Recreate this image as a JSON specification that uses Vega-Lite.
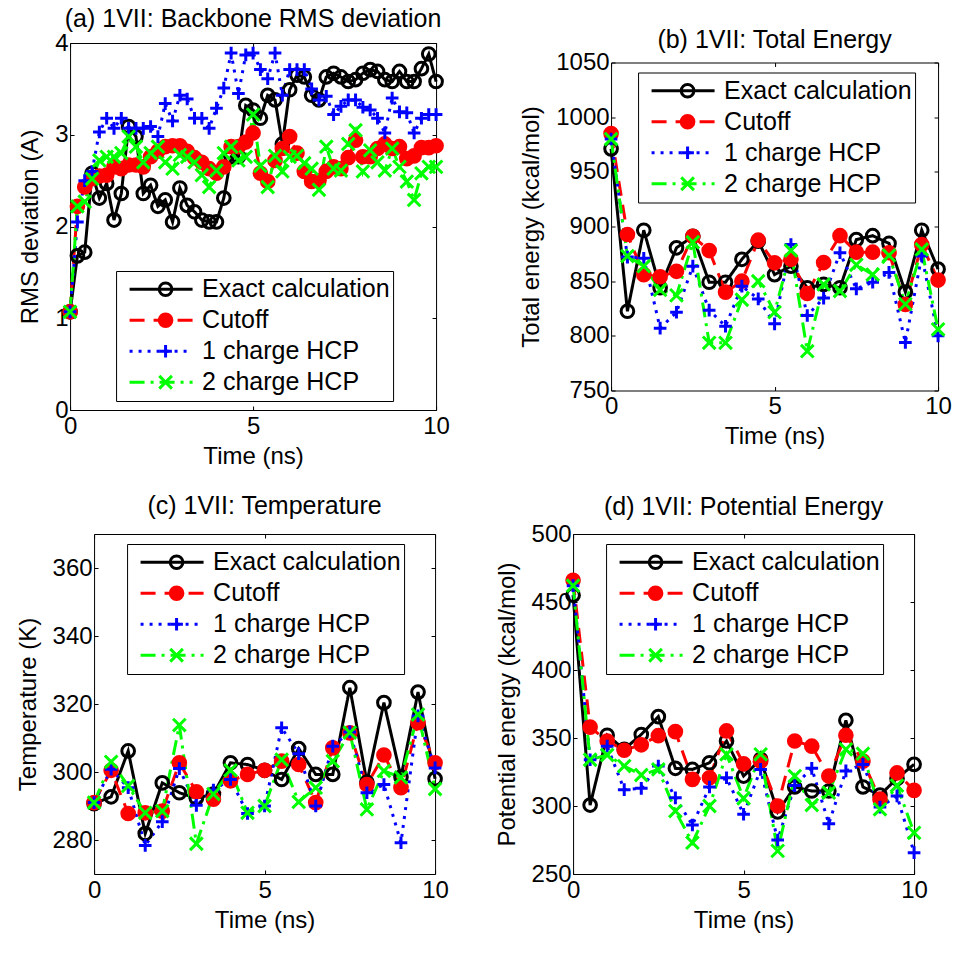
{
  "$schema": "https://vega.github.io/schema/vega-lite/v6.json",
  "background": "white",
  "padding": {"left": 15, "top": 6, "right": 5, "bottom": 5},
  "datasets": {
    "a": [
      {"t":0,"s":"Exact calculation","v":1.07},{"t":0.2,"s":"Exact calculation","v":1.68},{"t":0.4,"s":"Exact calculation","v":1.72},{"t":0.6,"s":"Exact calculation","v":2.58},{"t":0.8,"s":"Exact calculation","v":2.31},{"t":1,"s":"Exact calculation","v":2.47},{"t":1.2,"s":"Exact calculation","v":2.07},{"t":1.4,"s":"Exact calculation","v":2.36},{"t":1.6,"s":"Exact calculation","v":3.09},{"t":1.8,"s":"Exact calculation","v":2.98},{"t":2,"s":"Exact calculation","v":2.36},{"t":2.2,"s":"Exact calculation","v":2.45},{"t":2.4,"s":"Exact calculation","v":2.22},{"t":2.6,"s":"Exact calculation","v":2.29},{"t":2.8,"s":"Exact calculation","v":2.05},{"t":3,"s":"Exact calculation","v":2.42},{"t":3.2,"s":"Exact calculation","v":2.23},{"t":3.4,"s":"Exact calculation","v":2.16},{"t":3.6,"s":"Exact calculation","v":2.07},{"t":3.8,"s":"Exact calculation","v":2.05},{"t":4,"s":"Exact calculation","v":2.05},{"t":4.2,"s":"Exact calculation","v":2.31},{"t":4.4,"s":"Exact calculation","v":2.76},{"t":4.6,"s":"Exact calculation","v":2.76},{"t":4.8,"s":"Exact calculation","v":3.32},{"t":5,"s":"Exact calculation","v":3.27},{"t":5.2,"s":"Exact calculation","v":3.18},{"t":5.4,"s":"Exact calculation","v":3.43},{"t":5.6,"s":"Exact calculation","v":3.38},{"t":5.8,"s":"Exact calculation","v":2.9},{"t":6,"s":"Exact calculation","v":3.49},{"t":6.2,"s":"Exact calculation","v":3.65},{"t":6.4,"s":"Exact calculation","v":3.63},{"t":6.6,"s":"Exact calculation","v":3.43},{"t":6.8,"s":"Exact calculation","v":3.38},{"t":7,"s":"Exact calculation","v":3.63},{"t":7.2,"s":"Exact calculation","v":3.67},{"t":7.4,"s":"Exact calculation","v":3.63},{"t":7.6,"s":"Exact calculation","v":3.58},{"t":7.8,"s":"Exact calculation","v":3.6},{"t":8,"s":"Exact calculation","v":3.67},{"t":8.2,"s":"Exact calculation","v":3.71},{"t":8.4,"s":"Exact calculation","v":3.69},{"t":8.6,"s":"Exact calculation","v":3.6},{"t":8.8,"s":"Exact calculation","v":3.58},{"t":9,"s":"Exact calculation","v":3.69},{"t":9.2,"s":"Exact calculation","v":3.58},{"t":9.4,"s":"Exact calculation","v":3.58},{"t":9.6,"s":"Exact calculation","v":3.72},{"t":9.8,"s":"Exact calculation","v":3.88},{"t":10,"s":"Exact calculation","v":3.58},
      {"t":0,"s":"Cutoff","v":1.07},{"t":0.2,"s":"Cutoff","v":2.22},{"t":0.4,"s":"Cutoff","v":2.43},{"t":0.6,"s":"Cutoff","v":2.52},{"t":0.8,"s":"Cutoff","v":2.55},{"t":1,"s":"Cutoff","v":2.56},{"t":1.2,"s":"Cutoff","v":2.65},{"t":1.4,"s":"Cutoff","v":2.63},{"t":1.6,"s":"Cutoff","v":2.67},{"t":1.8,"s":"Cutoff","v":2.67},{"t":2,"s":"Cutoff","v":2.65},{"t":2.2,"s":"Cutoff","v":2.76},{"t":2.4,"s":"Cutoff","v":2.82},{"t":2.6,"s":"Cutoff","v":2.87},{"t":2.8,"s":"Cutoff","v":2.88},{"t":3,"s":"Cutoff","v":2.88},{"t":3.2,"s":"Cutoff","v":2.82},{"t":3.4,"s":"Cutoff","v":2.75},{"t":3.6,"s":"Cutoff","v":2.7},{"t":3.8,"s":"Cutoff","v":2.63},{"t":4,"s":"Cutoff","v":2.58},{"t":4.2,"s":"Cutoff","v":2.65},{"t":4.4,"s":"Cutoff","v":2.87},{"t":4.6,"s":"Cutoff","v":2.87},{"t":4.8,"s":"Cutoff","v":2.92},{"t":5,"s":"Cutoff","v":3.02},{"t":5.2,"s":"Cutoff","v":2.58},{"t":5.4,"s":"Cutoff","v":2.49},{"t":5.6,"s":"Cutoff","v":2.72},{"t":5.8,"s":"Cutoff","v":2.85},{"t":6,"s":"Cutoff","v":2.98},{"t":6.2,"s":"Cutoff","v":2.8},{"t":6.4,"s":"Cutoff","v":2.6},{"t":6.6,"s":"Cutoff","v":2.49},{"t":6.8,"s":"Cutoff","v":2.5},{"t":7,"s":"Cutoff","v":2.6},{"t":7.2,"s":"Cutoff","v":2.65},{"t":7.4,"s":"Cutoff","v":2.63},{"t":7.6,"s":"Cutoff","v":2.75},{"t":7.8,"s":"Cutoff","v":2.94},{"t":8,"s":"Cutoff","v":2.76},{"t":8.2,"s":"Cutoff","v":2.76},{"t":8.4,"s":"Cutoff","v":2.85},{"t":8.6,"s":"Cutoff","v":2.9},{"t":8.8,"s":"Cutoff","v":2.85},{"t":9,"s":"Cutoff","v":2.87},{"t":9.2,"s":"Cutoff","v":2.74},{"t":9.4,"s":"Cutoff","v":2.77},{"t":9.6,"s":"Cutoff","v":2.86},{"t":9.8,"s":"Cutoff","v":2.86},{"t":10,"s":"Cutoff","v":2.88},
      {"t":0,"s":"1 charge HCP","v":1.07},{"t":0.2,"s":"1 charge HCP","v":2.05},{"t":0.4,"s":"1 charge HCP","v":2.5},{"t":0.6,"s":"1 charge HCP","v":2.6},{"t":0.8,"s":"1 charge HCP","v":3.03},{"t":1,"s":"1 charge HCP","v":3.18},{"t":1.2,"s":"1 charge HCP","v":3.07},{"t":1.4,"s":"1 charge HCP","v":3.18},{"t":1.6,"s":"1 charge HCP","v":3.07},{"t":1.8,"s":"1 charge HCP","v":3.07},{"t":2,"s":"1 charge HCP","v":3.07},{"t":2.2,"s":"1 charge HCP","v":3.09},{"t":2.4,"s":"1 charge HCP","v":2.98},{"t":2.6,"s":"1 charge HCP","v":3.34},{"t":2.8,"s":"1 charge HCP","v":3.15},{"t":3,"s":"1 charge HCP","v":3.43},{"t":3.2,"s":"1 charge HCP","v":3.39},{"t":3.4,"s":"1 charge HCP","v":3.18},{"t":3.6,"s":"1 charge HCP","v":3.18},{"t":3.8,"s":"1 charge HCP","v":3.07},{"t":4,"s":"1 charge HCP","v":3.29},{"t":4.2,"s":"1 charge HCP","v":3.51},{"t":4.4,"s":"1 charge HCP","v":3.89},{"t":4.6,"s":"1 charge HCP","v":3.45},{"t":4.8,"s":"1 charge HCP","v":3.87},{"t":5,"s":"1 charge HCP","v":3.89},{"t":5.2,"s":"1 charge HCP","v":3.71},{"t":5.4,"s":"1 charge HCP","v":3.61},{"t":5.6,"s":"1 charge HCP","v":3.89},{"t":5.8,"s":"1 charge HCP","v":3.43},{"t":6,"s":"1 charge HCP","v":3.71},{"t":6.2,"s":"1 charge HCP","v":3.71},{"t":6.4,"s":"1 charge HCP","v":3.71},{"t":6.6,"s":"1 charge HCP","v":3.5},{"t":6.8,"s":"1 charge HCP","v":3.38},{"t":7,"s":"1 charge HCP","v":3.42},{"t":7.2,"s":"1 charge HCP","v":3.22},{"t":7.4,"s":"1 charge HCP","v":3.31},{"t":7.6,"s":"1 charge HCP","v":3.38},{"t":7.8,"s":"1 charge HCP","v":3.38},{"t":8,"s":"1 charge HCP","v":3.3},{"t":8.2,"s":"1 charge HCP","v":3.27},{"t":8.4,"s":"1 charge HCP","v":3.18},{"t":8.6,"s":"1 charge HCP","v":3.02},{"t":8.8,"s":"1 charge HCP","v":3.4},{"t":9,"s":"1 charge HCP","v":3.25},{"t":9.2,"s":"1 charge HCP","v":3.24},{"t":9.4,"s":"1 charge HCP","v":3.02},{"t":9.6,"s":"1 charge HCP","v":3.18},{"t":9.8,"s":"1 charge HCP","v":3.22},{"t":10,"s":"1 charge HCP","v":3.22},
      {"t":0,"s":"2 charge HCP","v":1.07},{"t":0.2,"s":"2 charge HCP","v":2.22},{"t":0.4,"s":"2 charge HCP","v":2.27},{"t":0.6,"s":"2 charge HCP","v":2.52},{"t":0.8,"s":"2 charge HCP","v":2.72},{"t":1,"s":"2 charge HCP","v":2.76},{"t":1.2,"s":"2 charge HCP","v":2.76},{"t":1.4,"s":"2 charge HCP","v":2.8},{"t":1.6,"s":"2 charge HCP","v":2.98},{"t":1.8,"s":"2 charge HCP","v":2.87},{"t":2,"s":"2 charge HCP","v":2.7},{"t":2.2,"s":"2 charge HCP","v":2.8},{"t":2.4,"s":"2 charge HCP","v":2.87},{"t":2.6,"s":"2 charge HCP","v":2.7},{"t":2.8,"s":"2 charge HCP","v":2.63},{"t":3,"s":"2 charge HCP","v":2.78},{"t":3.2,"s":"2 charge HCP","v":2.76},{"t":3.4,"s":"2 charge HCP","v":2.7},{"t":3.6,"s":"2 charge HCP","v":2.56},{"t":3.8,"s":"2 charge HCP","v":2.43},{"t":4,"s":"2 charge HCP","v":2.61},{"t":4.2,"s":"2 charge HCP","v":2.8},{"t":4.4,"s":"2 charge HCP","v":2.87},{"t":4.6,"s":"2 charge HCP","v":2.72},{"t":4.8,"s":"2 charge HCP","v":2.76},{"t":5,"s":"2 charge HCP","v":3.22},{"t":5.2,"s":"2 charge HCP","v":2.66},{"t":5.4,"s":"2 charge HCP","v":2.43},{"t":5.6,"s":"2 charge HCP","v":2.77},{"t":5.8,"s":"2 charge HCP","v":2.6},{"t":6,"s":"2 charge HCP","v":2.76},{"t":6.2,"s":"2 charge HCP","v":2.77},{"t":6.4,"s":"2 charge HCP","v":2.69},{"t":6.6,"s":"2 charge HCP","v":2.63},{"t":6.8,"s":"2 charge HCP","v":2.4},{"t":7,"s":"2 charge HCP","v":2.87},{"t":7.2,"s":"2 charge HCP","v":2.63},{"t":7.4,"s":"2 charge HCP","v":2.61},{"t":7.6,"s":"2 charge HCP","v":2.9},{"t":7.8,"s":"2 charge HCP","v":3.05},{"t":8,"s":"2 charge HCP","v":2.6},{"t":8.2,"s":"2 charge HCP","v":2.83},{"t":8.4,"s":"2 charge HCP","v":2.7},{"t":8.6,"s":"2 charge HCP","v":2.61},{"t":8.8,"s":"2 charge HCP","v":2.85},{"t":9,"s":"2 charge HCP","v":2.65},{"t":9.2,"s":"2 charge HCP","v":2.49},{"t":9.4,"s":"2 charge HCP","v":2.29},{"t":9.6,"s":"2 charge HCP","v":2.58},{"t":9.8,"s":"2 charge HCP","v":2.65},{"t":10,"s":"2 charge HCP","v":2.65}
    ],
    "b": [
      {"t":0,"s":"Exact calculation","v":971},{"t":0.5,"s":"Exact calculation","v":822.5},{"t":1,"s":"Exact calculation","v":896.6},{"t":1.5,"s":"Exact calculation","v":844},{"t":2,"s":"Exact calculation","v":880.5},{"t":2.5,"s":"Exact calculation","v":891},{"t":3,"s":"Exact calculation","v":849},{"t":3.5,"s":"Exact calculation","v":849},{"t":4,"s":"Exact calculation","v":870},{"t":4.5,"s":"Exact calculation","v":886.6},{"t":5,"s":"Exact calculation","v":856},{"t":5.5,"s":"Exact calculation","v":863.7},{"t":6,"s":"Exact calculation","v":844},{"t":6.5,"s":"Exact calculation","v":847},{"t":7,"s":"Exact calculation","v":844},{"t":7.5,"s":"Exact calculation","v":888},{"t":8,"s":"Exact calculation","v":891.6},{"t":8.5,"s":"Exact calculation","v":884.5},{"t":9,"s":"Exact calculation","v":840},{"t":9.5,"s":"Exact calculation","v":896.6},{"t":10,"s":"Exact calculation","v":861},
      {"t":0,"s":"Cutoff","v":985},{"t":0.5,"s":"Cutoff","v":892.7},{"t":1,"s":"Cutoff","v":856},{"t":1.5,"s":"Cutoff","v":854},{"t":2,"s":"Cutoff","v":859},{"t":2.5,"s":"Cutoff","v":891},{"t":3,"s":"Cutoff","v":878},{"t":3.5,"s":"Cutoff","v":840},{"t":4,"s":"Cutoff","v":850},{"t":4.5,"s":"Cutoff","v":887.5},{"t":5,"s":"Cutoff","v":866.8},{"t":5.5,"s":"Cutoff","v":870},{"t":6,"s":"Cutoff","v":838.7},{"t":6.5,"s":"Cutoff","v":867},{"t":7,"s":"Cutoff","v":891.6},{"t":7.5,"s":"Cutoff","v":876.5},{"t":8,"s":"Cutoff","v":876.5},{"t":8.5,"s":"Cutoff","v":876},{"t":9,"s":"Cutoff","v":828.7},{"t":9.5,"s":"Cutoff","v":883.5},{"t":10,"s":"Cutoff","v":851},
      {"t":0,"s":"1 charge HCP","v":980},{"t":0.5,"s":"1 charge HCP","v":872},{"t":1,"s":"1 charge HCP","v":871},{"t":1.5,"s":"1 charge HCP","v":807},{"t":2,"s":"1 charge HCP","v":821.6},{"t":2.5,"s":"1 charge HCP","v":863.7},{"t":3,"s":"1 charge HCP","v":823.5},{"t":3.5,"s":"1 charge HCP","v":808.8},{"t":4,"s":"1 charge HCP","v":845.4},{"t":4.5,"s":"1 charge HCP","v":833.8},{"t":5,"s":"1 charge HCP","v":811},{"t":5.5,"s":"1 charge HCP","v":883.5},{"t":6,"s":"1 charge HCP","v":818.6},{"t":6.5,"s":"1 charge HCP","v":834.5},{"t":7,"s":"1 charge HCP","v":876},{"t":7.5,"s":"1 charge HCP","v":843},{"t":8,"s":"1 charge HCP","v":849},{"t":8.5,"s":"1 charge HCP","v":858},{"t":9,"s":"1 charge HCP","v":794},{"t":9.5,"s":"1 charge HCP","v":873},{"t":10,"s":"1 charge HCP","v":800},
      {"t":0,"s":"2 charge HCP","v":980},{"t":0.5,"s":"2 charge HCP","v":873},{"t":1,"s":"2 charge HCP","v":863.7},{"t":1.5,"s":"2 charge HCP","v":842},{"t":2,"s":"2 charge HCP","v":837},{"t":2.5,"s":"2 charge HCP","v":885.6},{"t":3,"s":"2 charge HCP","v":793.6},{"t":3.5,"s":"2 charge HCP","v":793.6},{"t":4,"s":"2 charge HCP","v":833},{"t":4.5,"s":"2 charge HCP","v":850},{"t":5,"s":"2 charge HCP","v":821.6},{"t":5.5,"s":"2 charge HCP","v":878},{"t":6,"s":"2 charge HCP","v":786},{"t":6.5,"s":"2 charge HCP","v":847},{"t":7,"s":"2 charge HCP","v":841},{"t":7.5,"s":"2 charge HCP","v":865},{"t":8,"s":"2 charge HCP","v":856},{"t":8.5,"s":"2 charge HCP","v":873.5},{"t":9,"s":"2 charge HCP","v":829},{"t":9.5,"s":"2 charge HCP","v":879},{"t":10,"s":"2 charge HCP","v":806}
    ],
    "c": [
      {"t":0,"s":"Exact calculation","v":290.7},{"t":0.5,"s":"Exact calculation","v":292.7},{"t":1,"s":"Exact calculation","v":306.2},{"t":1.5,"s":"Exact calculation","v":281.9},{"t":2,"s":"Exact calculation","v":296.8},{"t":2.5,"s":"Exact calculation","v":293.9},{"t":3,"s":"Exact calculation","v":292.3},{"t":3.5,"s":"Exact calculation","v":293.5},{"t":4,"s":"Exact calculation","v":302.7},{"t":4.5,"s":"Exact calculation","v":302.2},{"t":5,"s":"Exact calculation","v":300.5},{"t":5.5,"s":"Exact calculation","v":297.8},{"t":6,"s":"Exact calculation","v":306.9},{"t":6.5,"s":"Exact calculation","v":299.3},{"t":7,"s":"Exact calculation","v":299.3},{"t":7.5,"s":"Exact calculation","v":324.8},{"t":8,"s":"Exact calculation","v":297},{"t":8.5,"s":"Exact calculation","v":320.4},{"t":9,"s":"Exact calculation","v":298.5},{"t":9.5,"s":"Exact calculation","v":323.5},{"t":10,"s":"Exact calculation","v":298},
      {"t":0,"s":"Cutoff","v":291},{"t":0.5,"s":"Cutoff","v":300.5},{"t":1,"s":"Cutoff","v":287.8},{"t":1.5,"s":"Cutoff","v":288},{"t":2,"s":"Cutoff","v":288.5},{"t":2.5,"s":"Cutoff","v":302.7},{"t":3,"s":"Cutoff","v":294.2},{"t":3.5,"s":"Cutoff","v":292},{"t":4,"s":"Cutoff","v":297.4},{"t":4.5,"s":"Cutoff","v":299.3},{"t":5,"s":"Cutoff","v":300.5},{"t":5.5,"s":"Cutoff","v":303.2},{"t":6,"s":"Cutoff","v":302.2},{"t":6.5,"s":"Cutoff","v":291},{"t":7,"s":"Cutoff","v":307.1},{"t":7.5,"s":"Cutoff","v":311.5},{"t":8,"s":"Cutoff","v":296.3},{"t":8.5,"s":"Cutoff","v":305},{"t":9,"s":"Cutoff","v":295.4},{"t":9.5,"s":"Cutoff","v":314.5},{"t":10,"s":"Cutoff","v":302.7},
      {"t":0,"s":"1 charge HCP","v":291},{"t":0.5,"s":"1 charge HCP","v":300.8},{"t":1,"s":"1 charge HCP","v":295.4},{"t":1.5,"s":"1 charge HCP","v":278.4},{"t":2,"s":"1 charge HCP","v":285.4},{"t":2.5,"s":"1 charge HCP","v":301},{"t":3,"s":"1 charge HCP","v":290.2},{"t":3.5,"s":"1 charge HCP","v":294.7},{"t":4,"s":"1 charge HCP","v":297.8},{"t":4.5,"s":"1 charge HCP","v":287.8},{"t":5,"s":"1 charge HCP","v":290},{"t":5.5,"s":"1 charge HCP","v":313},{"t":6,"s":"1 charge HCP","v":305.4},{"t":6.5,"s":"1 charge HCP","v":290},{"t":7,"s":"1 charge HCP","v":307.6},{"t":7.5,"s":"1 charge HCP","v":311.8},{"t":8,"s":"1 charge HCP","v":293.9},{"t":8.5,"s":"1 charge HCP","v":296.3},{"t":9,"s":"1 charge HCP","v":279.2},{"t":9.5,"s":"1 charge HCP","v":316.5},{"t":10,"s":"1 charge HCP","v":301.2},
      {"t":0,"s":"2 charge HCP","v":291},{"t":0.5,"s":"2 charge HCP","v":303},{"t":1,"s":"2 charge HCP","v":295.9},{"t":1.5,"s":"2 charge HCP","v":288},{"t":2,"s":"2 charge HCP","v":288.5},{"t":2.5,"s":"2 charge HCP","v":313.8},{"t":3,"s":"2 charge HCP","v":278.9},{"t":3.5,"s":"2 charge HCP","v":293.5},{"t":4,"s":"2 charge HCP","v":300.5},{"t":4.5,"s":"2 charge HCP","v":288},{"t":5,"s":"2 charge HCP","v":290},{"t":5.5,"s":"2 charge HCP","v":303.6},{"t":6,"s":"2 charge HCP","v":291.2},{"t":6.5,"s":"2 charge HCP","v":295.4},{"t":7,"s":"2 charge HCP","v":303.2},{"t":7.5,"s":"2 charge HCP","v":311.6},{"t":8,"s":"2 charge HCP","v":289},{"t":8.5,"s":"2 charge HCP","v":300.3},{"t":9,"s":"2 charge HCP","v":298.4},{"t":9.5,"s":"2 charge HCP","v":316.9},{"t":10,"s":"2 charge HCP","v":295}
    ],
    "d": [
      {"t":0,"s":"Exact calculation","v":455},{"t":0.5,"s":"Exact calculation","v":300.7},{"t":1,"s":"Exact calculation","v":352},{"t":1.5,"s":"Exact calculation","v":341.7},{"t":2,"s":"Exact calculation","v":352.6},{"t":2.5,"s":"Exact calculation","v":365.7},{"t":3,"s":"Exact calculation","v":327.7},{"t":3.5,"s":"Exact calculation","v":326.9},{"t":4,"s":"Exact calculation","v":331.8},{"t":4.5,"s":"Exact calculation","v":347.8},{"t":5,"s":"Exact calculation","v":322},{"t":5.5,"s":"Exact calculation","v":334.3},{"t":6,"s":"Exact calculation","v":295.7},{"t":6.5,"s":"Exact calculation","v":314},{"t":7,"s":"Exact calculation","v":311},{"t":7.5,"s":"Exact calculation","v":311},{"t":8,"s":"Exact calculation","v":363},{"t":8.5,"s":"Exact calculation","v":314},{"t":9,"s":"Exact calculation","v":308},{"t":9.5,"s":"Exact calculation","v":320.3},{"t":10,"s":"Exact calculation","v":330.6},
      {"t":0,"s":"Cutoff","v":466},{"t":0.5,"s":"Cutoff","v":358},{"t":1,"s":"Cutoff","v":347.8},{"t":1.5,"s":"Cutoff","v":341},{"t":2,"s":"Cutoff","v":345},{"t":2.5,"s":"Cutoff","v":351.7},{"t":3,"s":"Cutoff","v":354.7},{"t":3.5,"s":"Cutoff","v":319.6},{"t":4,"s":"Cutoff","v":320.8},{"t":4.5,"s":"Cutoff","v":355.2},{"t":5,"s":"Cutoff","v":331},{"t":5.5,"s":"Cutoff","v":333},{"t":6,"s":"Cutoff","v":300},{"t":6.5,"s":"Cutoff","v":347.8},{"t":7,"s":"Cutoff","v":344},{"t":7.5,"s":"Cutoff","v":322},{"t":8,"s":"Cutoff","v":352},{"t":8.5,"s":"Cutoff","v":333},{"t":9,"s":"Cutoff","v":305},{"t":9.5,"s":"Cutoff","v":324.3},{"t":10,"s":"Cutoff","v":311.5},
      {"t":0,"s":"1 charge HCP","v":462},{"t":0.5,"s":"1 charge HCP","v":334},{"t":1,"s":"1 charge HCP","v":344},{"t":1.5,"s":"1 charge HCP","v":312},{"t":2,"s":"1 charge HCP","v":313},{"t":2.5,"s":"1 charge HCP","v":329.4},{"t":3,"s":"1 charge HCP","v":306},{"t":3.5,"s":"1 charge HCP","v":286},{"t":4,"s":"1 charge HCP","v":314},{"t":4.5,"s":"1 charge HCP","v":320.8},{"t":5,"s":"1 charge HCP","v":293.9},{"t":5.5,"s":"1 charge HCP","v":326.9},{"t":6,"s":"1 charge HCP","v":275},{"t":6.5,"s":"1 charge HCP","v":315},{"t":7,"s":"1 charge HCP","v":327.7},{"t":7.5,"s":"1 charge HCP","v":287},{"t":8,"s":"1 charge HCP","v":325.8},{"t":8.5,"s":"1 charge HCP","v":330.6},{"t":9,"s":"1 charge HCP","v":299.2},{"t":9.5,"s":"1 charge HCP","v":307.4},{"t":10,"s":"1 charge HCP","v":265.7},
      {"t":0,"s":"2 charge HCP","v":462},{"t":0.5,"s":"2 charge HCP","v":334},{"t":1,"s":"2 charge HCP","v":337.5},{"t":1.5,"s":"2 charge HCP","v":329.4},{"t":2,"s":"2 charge HCP","v":322.8},{"t":2.5,"s":"2 charge HCP","v":326.9},{"t":3,"s":"2 charge HCP","v":296.3},{"t":3.5,"s":"2 charge HCP","v":273},{"t":4,"s":"2 charge HCP","v":300},{"t":4.5,"s":"2 charge HCP","v":338},{"t":5,"s":"2 charge HCP","v":305.7},{"t":5.5,"s":"2 charge HCP","v":338},{"t":6,"s":"2 charge HCP","v":267},{"t":6.5,"s":"2 charge HCP","v":322},{"t":7,"s":"2 charge HCP","v":300.7},{"t":7.5,"s":"2 charge HCP","v":309.8},{"t":8,"s":"2 charge HCP","v":341.7},{"t":8.5,"s":"2 charge HCP","v":338.5},{"t":9,"s":"2 charge HCP","v":297.6},{"t":9.5,"s":"2 charge HCP","v":315},{"t":10,"s":"2 charge HCP","v":280.3}
    ]
  },
  "spacing": 24,
  "center": true,
  "resolve": {"scale": {"color": "independent", "strokeDash": "independent", "stroke": "independent", "fill": "independent", "shape": "independent"}},
  "vconcat": [
    {
      "hconcat": [
        {
          "width": 366, "height": 367,
          "title": {"text": "(a) 1VII: Backbone RMS deviation", "offset": -1},
          "data": {"name": "a"},
          "layer": [
            {
              "mark": {"type": "line", "strokeWidth": 3},
              "encoding": {
                "x": {"field": "t", "type": "quantitative", "scale": {"domain": [0, 10], "nice": false, "zero": false}, "axis": {"orient": "bottom", "values": [0, 5, 10], "title": "Time (ns)"}},
                "y": {"field": "v", "type": "quantitative", "scale": {"domain": [0, 4], "nice": false, "zero": false}, "axis": {"orient": "left", "values": [0, 1, 2, 3, 4], "title": "RMS deviation (A)"}},
                "color": {"field": "s", "type": "nominal", "sort": null, "scale": {"range": ["#000000", "#ff0000", "#0000ff", "#00ff00"]}, "legend": {"title": null, "orient": "none", "legendX": 46, "legendY": 228, "symbolType": "stroke", "symbolSize": 3969, "symbolOffset": 9, "labelOffset": 8, "strokeColor": "black", "fillColor": "white", "zindex": 1}},
                "strokeDash": {"field": "s", "type": "nominal", "sort": null, "scale": {"range": [[1, 0], [15, 9], [3, 6], [15, 6, 3, 6]]}, "legend": {"title": null}}
              }
            },
            {
              "mark": {"type": "point", "size": 160, "strokeWidth": 3, "opacity": 1},
              "encoding": {
                "x": {"field": "t", "type": "quantitative", "scale": {"domain": [0, 10], "nice": false, "zero": false}, "axis": {"orient": "top", "values": [0, 5, 10], "labels": false, "title": null}},
                "y": {"field": "v", "type": "quantitative", "scale": {"domain": [0, 4], "nice": false, "zero": false}, "axis": {"orient": "right", "values": [0, 1, 2, 3, 4], "labels": false, "title": null}},
                "stroke": {"field": "s", "type": "nominal", "scale": {"domain": ["Exact calculation", "Cutoff", "1 charge HCP", "2 charge HCP"], "range": ["#000000", "#ff0000", "#0000ff", "#00ff00"]}, "legend": {"title": null}},
                "fill": {"field": "s", "type": "nominal", "scale": {"domain": ["Exact calculation", "Cutoff", "1 charge HCP", "2 charge HCP"], "range": ["transparent", "#ff0000", "#0000ff", "#00ff00"]}, "legend": {"title": null}},
                "shape": {"field": "s", "type": "nominal", "scale": {"domain": ["Exact calculation", "Cutoff", "1 charge HCP", "2 charge HCP"], "range": ["circle", "circle", "M-1,0L1,0M0,-1L0,1", "M-1,-1L1,1M-1,1L1,-1"]}, "legend": {"title": null, "orient": "none", "legendX": 46, "legendY": 228, "symbolSize": 160, "symbolOffset": 34, "labelOffset": 8, "labelExpr": "''", "zindex": 2}}
              }
            }
          ],
          "resolve": {"axis": {"x": "independent", "y": "independent"}}
        },
        {
          "width": 327, "height": 328,
          "title": {"text": "(b) 1VII: Total Energy", "offset": -2},
          "data": {"name": "b"},
          "layer": [
            {
              "mark": {"type": "line", "strokeWidth": 3},
              "encoding": {
                "x": {"field": "t", "type": "quantitative", "scale": {"domain": [0, 10], "nice": false, "zero": false}, "axis": {"orient": "bottom", "values": [0, 5, 10], "title": "Time (ns)"}},
                "y": {"field": "v", "type": "quantitative", "scale": {"domain": [750, 1050], "nice": false, "zero": false}, "axis": {"orient": "left", "values": [750, 800, 850, 900, 950, 1000, 1050], "format": "d", "title": "Total energy (kcal/mol)"}},
                "color": {"field": "s", "type": "nominal", "sort": null, "scale": {"range": ["#000000", "#ff0000", "#0000ff", "#00ff00"]}, "legend": {"title": null, "orient": "none", "legendX": 27, "legendY": 10, "symbolType": "stroke", "symbolSize": 3969, "symbolOffset": 9, "labelOffset": 8, "strokeColor": "black", "fillColor": "white", "zindex": 1}},
                "strokeDash": {"field": "s", "type": "nominal", "sort": null, "scale": {"range": [[1, 0], [15, 9], [3, 6], [15, 6, 3, 6]]}, "legend": {"title": null}}
              }
            },
            {
              "mark": {"type": "point", "size": 160, "strokeWidth": 3, "opacity": 1},
              "encoding": {
                "x": {"field": "t", "type": "quantitative", "scale": {"domain": [0, 10], "nice": false, "zero": false}, "axis": {"orient": "top", "values": [0, 5, 10], "labels": false, "title": null}},
                "y": {"field": "v", "type": "quantitative", "scale": {"domain": [750, 1050], "nice": false, "zero": false}, "axis": {"orient": "right", "values": [750, 800, 850, 900, 950, 1000, 1050], "labels": false, "title": null}},
                "stroke": {"field": "s", "type": "nominal", "scale": {"domain": ["Exact calculation", "Cutoff", "1 charge HCP", "2 charge HCP"], "range": ["#000000", "#ff0000", "#0000ff", "#00ff00"]}, "legend": {"title": null}},
                "fill": {"field": "s", "type": "nominal", "scale": {"domain": ["Exact calculation", "Cutoff", "1 charge HCP", "2 charge HCP"], "range": ["transparent", "#ff0000", "#0000ff", "#00ff00"]}, "legend": {"title": null}},
                "shape": {"field": "s", "type": "nominal", "scale": {"domain": ["Exact calculation", "Cutoff", "1 charge HCP", "2 charge HCP"], "range": ["circle", "circle", "M-1,0L1,0M0,-1L0,1", "M-1,-1L1,1M-1,1L1,-1"]}, "legend": {"title": null, "orient": "none", "legendX": 27, "legendY": 10, "symbolSize": 160, "symbolOffset": 34, "labelOffset": 8, "labelExpr": "''", "zindex": 2}}
              }
            }
          ],
          "resolve": {"axis": {"x": "independent", "y": "independent"}}
        }
      ],
      "spacing": 175, "bounds": "flush", "center": true,
      "resolve": {"scale": {"color": "independent", "strokeDash": "independent", "stroke": "independent", "fill": "independent", "shape": "independent"}}
    },
    {
      "hconcat": [
        {
          "width": 341, "height": 340,
          "title": {"text": "(c) 1VII: Temperature", "offset": 15},
          "data": {"name": "c"},
          "layer": [
            {
              "mark": {"type": "line", "strokeWidth": 3},
              "encoding": {
                "x": {"field": "t", "type": "quantitative", "scale": {"domain": [0, 10], "nice": false, "zero": false}, "axis": {"orient": "bottom", "values": [0, 5, 10], "title": "Time (ns)"}},
                "y": {"field": "v", "type": "quantitative", "scale": {"domain": [270, 370], "nice": false, "zero": false}, "axis": {"orient": "left", "values": [280, 300, 320, 340, 360], "title": "Temperature (K)"}},
                "color": {"field": "s", "type": "nominal", "sort": null, "scale": {"range": ["#000000", "#ff0000", "#0000ff", "#00ff00"]}, "legend": {"title": null, "orient": "none", "legendX": 33, "legendY": 10, "symbolType": "stroke", "symbolSize": 3969, "symbolOffset": 9, "labelOffset": 8, "strokeColor": "black", "fillColor": "white", "zindex": 1}},
                "strokeDash": {"field": "s", "type": "nominal", "sort": null, "scale": {"range": [[1, 0], [15, 9], [3, 6], [15, 6, 3, 6]]}, "legend": {"title": null}}
              }
            },
            {
              "mark": {"type": "point", "size": 160, "strokeWidth": 3, "opacity": 1},
              "encoding": {
                "x": {"field": "t", "type": "quantitative", "scale": {"domain": [0, 10], "nice": false, "zero": false}, "axis": {"orient": "top", "values": [0, 5, 10], "labels": false, "title": null}},
                "y": {"field": "v", "type": "quantitative", "scale": {"domain": [270, 370], "nice": false, "zero": false}, "axis": {"orient": "right", "values": [280, 300, 320, 340, 360], "labels": false, "title": null}},
                "stroke": {"field": "s", "type": "nominal", "scale": {"domain": ["Exact calculation", "Cutoff", "1 charge HCP", "2 charge HCP"], "range": ["#000000", "#ff0000", "#0000ff", "#00ff00"]}, "legend": {"title": null}},
                "fill": {"field": "s", "type": "nominal", "scale": {"domain": ["Exact calculation", "Cutoff", "1 charge HCP", "2 charge HCP"], "range": ["transparent", "#ff0000", "#0000ff", "#00ff00"]}, "legend": {"title": null}},
                "shape": {"field": "s", "type": "nominal", "scale": {"domain": ["Exact calculation", "Cutoff", "1 charge HCP", "2 charge HCP"], "range": ["circle", "circle", "M-1,0L1,0M0,-1L0,1", "M-1,-1L1,1M-1,1L1,-1"]}, "legend": {"title": null, "orient": "none", "legendX": 33, "legendY": 10, "symbolSize": 160, "symbolOffset": 34, "labelOffset": 8, "labelExpr": "''", "zindex": 2}}
              }
            }
          ],
          "resolve": {"axis": {"x": "independent", "y": "independent"}}
        },
        {
          "width": 341, "height": 340,
          "title": {"text": "(d) 1VII: Potential Energy", "offset": 2},
          "data": {"name": "d"},
          "layer": [
            {
              "mark": {"type": "line", "strokeWidth": 3},
              "encoding": {
                "x": {"field": "t", "type": "quantitative", "scale": {"domain": [0, 10], "nice": false, "zero": false}, "axis": {"orient": "bottom", "values": [0, 5, 10], "title": "Time (ns)"}},
                "y": {"field": "v", "type": "quantitative", "scale": {"domain": [250, 500], "nice": false, "zero": false}, "axis": {"orient": "left", "values": [250, 300, 350, 400, 450, 500], "title": "Potential energy (kcal/mol)"}},
                "color": {"field": "s", "type": "nominal", "sort": null, "scale": {"range": ["#000000", "#ff0000", "#0000ff", "#00ff00"]}, "legend": {"title": null, "orient": "none", "legendX": 33, "legendY": 10, "symbolType": "stroke", "symbolSize": 3969, "symbolOffset": 9, "labelOffset": 8, "strokeColor": "black", "fillColor": "white", "zindex": 1}},
                "strokeDash": {"field": "s", "type": "nominal", "sort": null, "scale": {"range": [[1, 0], [15, 9], [3, 6], [15, 6, 3, 6]]}, "legend": {"title": null}}
              }
            },
            {
              "mark": {"type": "point", "size": 160, "strokeWidth": 3, "opacity": 1},
              "encoding": {
                "x": {"field": "t", "type": "quantitative", "scale": {"domain": [0, 10], "nice": false, "zero": false}, "axis": {"orient": "top", "values": [0, 5, 10], "labels": false, "title": null}},
                "y": {"field": "v", "type": "quantitative", "scale": {"domain": [250, 500], "nice": false, "zero": false}, "axis": {"orient": "right", "values": [250, 300, 350, 400, 450, 500], "labels": false, "title": null}},
                "stroke": {"field": "s", "type": "nominal", "scale": {"domain": ["Exact calculation", "Cutoff", "1 charge HCP", "2 charge HCP"], "range": ["#000000", "#ff0000", "#0000ff", "#00ff00"]}, "legend": {"title": null}},
                "fill": {"field": "s", "type": "nominal", "scale": {"domain": ["Exact calculation", "Cutoff", "1 charge HCP", "2 charge HCP"], "range": ["transparent", "#ff0000", "#0000ff", "#00ff00"]}, "legend": {"title": null}},
                "shape": {"field": "s", "type": "nominal", "scale": {"domain": ["Exact calculation", "Cutoff", "1 charge HCP", "2 charge HCP"], "range": ["circle", "circle", "M-1,0L1,0M0,-1L0,1", "M-1,-1L1,1M-1,1L1,-1"]}, "legend": {"title": null, "orient": "none", "legendX": 33, "legendY": 10, "symbolSize": 160, "symbolOffset": 34, "labelOffset": 8, "labelExpr": "''", "zindex": 2}}
              }
            }
          ],
          "resolve": {"axis": {"x": "independent", "y": "independent"}}
        }
      ],
      "spacing": 138, "bounds": "flush",
      "resolve": {"scale": {"color": "independent", "strokeDash": "independent", "stroke": "independent", "fill": "independent", "shape": "independent"}}
    }
  ],
  "config": {
    "font": "Liberation Sans",
    "view": {"stroke": "black", "strokeWidth": 1},
    "axis": {"labelFontSize": 24, "titleFontSize": 24, "labelColor": "black", "titleColor": "black", "titleFontWeight": "normal", "grid": false, "domain": false, "tickColor": "black", "tickSize": -4, "labelPadding": 6, "labelFlush": false, "labelOverlap": false},
    "axisX": {"labelPadding": 8, "titlePadding": 6},
    "axisY": {"titlePadding": 12},
    "title": {"fontSize": 25, "fontWeight": "normal", "color": "black", "anchor": "middle", "frame": "group", "baseline": "alphabetic"},
    "legend": {"padding": 3, "rowPadding": 0, "clipHeight": 30.5, "labelFontSize": 25, "labelColor": "black", "labelLimit": 400, "symbolStrokeWidth": 3}
  }
}
